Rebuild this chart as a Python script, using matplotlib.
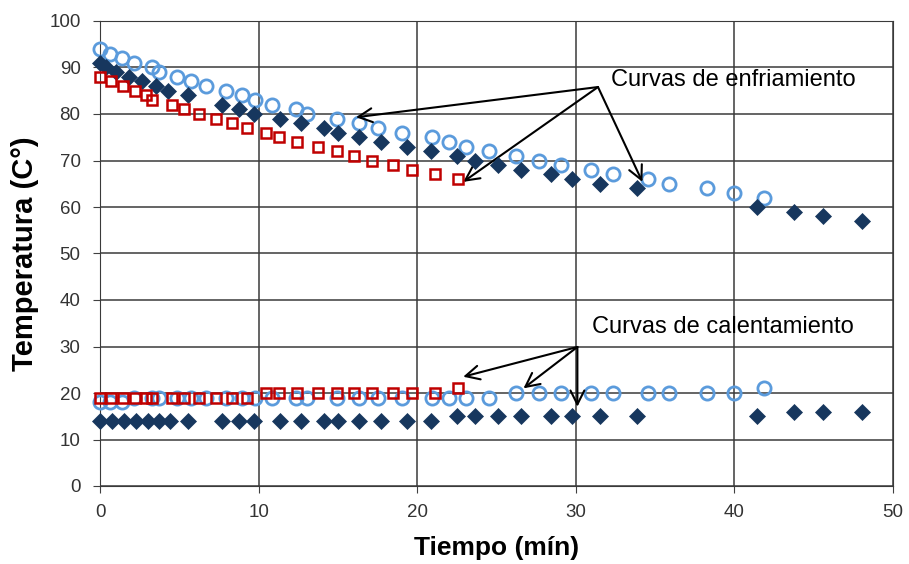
import numpy as np
import matplotlib
matplotlib.use('Agg')
import matplotlib.pyplot as plt

plt.rcParams['font.family'] = ['Liberation Sans', 'DejaVu Sans']

# cooling curves (enfriamiento)
t_circ = [0, 0.63, 1.37, 2.14, 3.26, 3.72, 4.84, 5.72, 6.68, 7.92, 8.93, 9.77, 10.86,
          12.36, 13.03, 14.92, 16.35, 17.51, 19.06, 20.95, 22.0, 23.08, 24.53, 26.23,
          27.7, 29.05, 30.96, 32.37, 34.57, 35.9, 38.25, 39.97, 41.89]
T_circ_cool = [94, 93, 92, 91, 90, 89, 88, 87, 86, 85, 84, 83, 82, 81, 80, 79, 78, 77,
               76, 75, 74, 73, 72, 71, 70, 69, 68, 67, 66, 65, 64, 63, 62]

t_diam_cool = [0, 0.38, 1.01, 1.85, 2.63, 3.53, 4.31, 5.57, 7.67, 8.78, 9.71, 11.35, 12.65,
               14.14, 15.03, 16.35, 17.72, 19.34, 20.87, 22.49, 23.64, 25.08, 26.55, 28.44,
               29.78, 31.53, 33.84, 41.41, 43.76, 45.57, 48.03]
T_diam_cool = [91, 90, 89, 88, 87, 86, 85, 84, 82, 81, 80, 79, 78, 77, 76, 75, 74, 73, 72,
               71, 70, 69, 68, 67, 66, 65, 64, 60, 59, 58, 57]

t_sq = [0, 0.69, 1.47, 2.21, 2.88, 3.26, 4.56, 5.30, 6.24, 7.30, 8.30, 9.25, 10.45, 11.31,
        12.40, 13.73, 14.96, 16.02, 17.18, 18.49, 19.65, 21.12, 22.59]
T_sq_cool = [88, 87, 86, 85, 84, 83, 82, 81, 80, 79, 78, 77, 76, 75, 74, 73, 72, 71, 70,
             69, 68, 67, 66]

# heating curves (calentamiento)
T_circ_heat = [18, 18, 18, 19, 19, 19, 19, 19, 19, 19, 19, 19, 19, 19, 19, 19, 19, 19,
               19, 19, 19, 19, 19, 20, 20, 20, 20, 20, 20, 20, 20, 20, 21]

t_diam_heat = [0, 0.74, 1.53, 2.25, 3.0, 3.72, 4.41, 5.53, 7.67, 8.78, 9.71, 11.35, 12.65,
               14.14, 15.03, 16.35, 17.72, 19.34, 20.87, 22.49, 23.64, 25.08, 26.55, 28.44,
               29.78, 31.53, 33.84, 41.41, 43.76, 45.57, 48.03]
T_diam_heat = [14, 14, 14, 14, 14, 14, 14, 14, 14, 14, 14, 14, 14, 14, 14, 14, 14, 14, 14,
               15, 15, 15, 15, 15, 15, 15, 15, 15, 16, 16, 16]

T_sq_heat = [19, 19, 19, 19, 19, 19, 19, 19, 19, 19, 19, 19, 20, 20, 20, 20, 20, 20, 20,
             20, 20, 20, 21]

blue = '#5b9bdc'
navy = '#17375e'
red = '#c00000'

fig = plt.figure(figsize=(9.09, 5.64), dpi=100)
ax = fig.add_axes([100/909, 1-486/564, 793/909, 465/564])

circ = dict(ls='none', marker='o', ms=9.5, mfc='none', mec=blue, mew=2, clip_on=False)
diam = dict(ls='none', marker='D', ms=8.5, mfc=navy, mec=navy, mew=0.5, clip_on=False)
sq = dict(ls='none', marker='s', ms=7.5, mfc='none', mec=red, mew=1.8, clip_on=False)

ax.plot(t_circ, T_circ_heat, **circ, zorder=3)
ax.plot(t_diam_heat, T_diam_heat, **diam, zorder=3)
ax.plot(t_sq, T_sq_heat, **sq, zorder=4)
ax.plot(t_circ, T_circ_cool, **circ, zorder=3)
ax.plot(t_diam_cool, T_diam_cool, **diam, zorder=4)
ax.plot(t_sq, T_sq_cool, **sq, zorder=5)

ax.set_xlim(0, 50)
ax.set_ylim(0, 100)
ax.set_xticks(np.arange(0, 51, 10))
ax.set_yticks(np.arange(0, 101, 10))
ax.grid(True, color='#3a3a3a', lw=1.1, zorder=0)
ax.set_axisbelow(True)
for s in ax.spines.values():
    s.set_color('#3a3a3a')
ax.tick_params(colors='#404040', labelsize=13.5, length=5, direction='out', labelcolor='#333333')
ax.tick_params(axis='x', pad=8)
ax.tick_params(axis='y', pad=9)

ax.set_xlabel('Tiempo (mín)', fontsize=19, fontweight='bold', labelpad=11)
ax.set_ylabel('Temperatura (C°)', fontsize=21, fontweight='bold', labelpad=7)

arr = dict(arrowstyle='->', color='black', lw=1.5, mutation_scale=25, shrinkA=0, shrinkB=0)
ax.text(32.2, 87.3, 'Curvas de enfriamiento', fontsize=17, ha='left', va='center')
for tip in [(16.14, 79.3), (22.9, 65.4), (34.2, 65.4)]:
    ax.annotate('', xy=tip, xytext=(31.4, 85.8), arrowprops=arr)

ax.text(31.0, 34.2, 'Curvas de calentamiento', fontsize=17, ha='left', va='center')
for tip in [(22.9, 23.5), (26.7, 21.0), (30.1, 17.05)]:
    ax.annotate('', xy=tip, xytext=(30.1, 29.9), arrowprops=arr)

fig.savefig('out.png', dpi=100)
